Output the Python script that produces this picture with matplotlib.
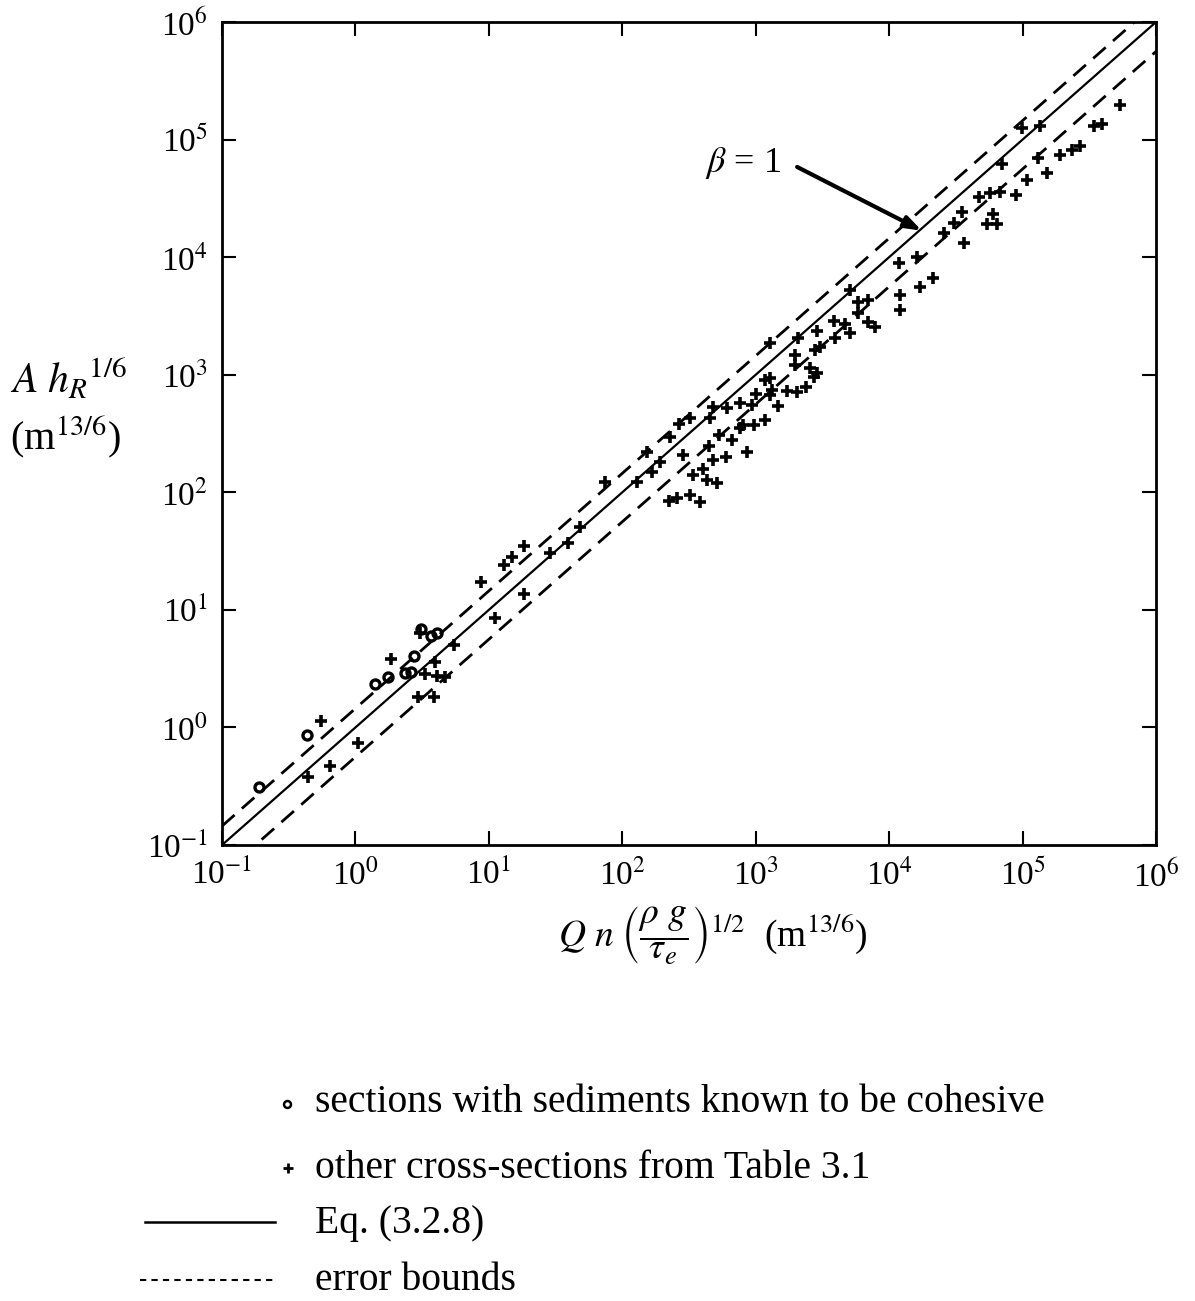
import numpy as np
import matplotlib.pyplot as plt

plt.rcParams['font.family'] = ['Liberation Serif', 'DejaVu Serif']
plt.rcParams['mathtext.fontset'] = 'stix'

# cross-sections with cohesive sediments
coh_x = [0.19, 0.43, 1.40, 1.75, 2.34, 2.62, 2.75, 3.08, 3.66, 4.05]
coh_y = [0.31, 0.86, 2.33, 2.71, 2.90, 2.99, 4.06, 6.90, 6.01, 6.34]

# other cross-sections (Table 3.1)
oth_x = [0.55, 0.44, 0.65, 1.05, 1.84, 3.03, 3.30, 3.97, 4.05, 4.67,
         2.94, 3.88, 5.48, 8.69, 11.1, 12.9, 14.9, 18.2, 18.2, 28.8,
         39.4, 48.3, 74.3, 129, 222, 256, 153, 166, 192, 228,
         264, 322, 455, 482, 607, 284, 322, 383, 341, 401,
         430, 511, 443, 482, 526, 600, 662, 764, 809, 857,
         935, 962, 764, 1007, 1175, 1479, 1175, 1282, 1321, 1282,
         1710, 2032, 2388, 1977, 1977, 2559, 2871, 2710, 2786, 3041,
         2871, 3936, 3828, 4677, 2089, 1282, 5047, 5047, 5794, 6998,
         5888, 6998, 7852, 11749, 16144, 12078, 12078, 17061, 21281, 25823,
         30690, 35075, 36058, 46774, 56494, 67920, 89536, 59841, 53951, 64121,
         69984, 107647, 152055, 131522, 191426, 234423, 270396, 98855, 133968, 340408,
         392645, 533335]
oth_y = [1.14, 0.38, 0.47, 0.73, 3.81, 6.41, 2.86, 3.63, 2.75, 2.71,
         1.83, 1.83, 5.04, 17.1, 8.49, 24.2, 28.4, 35.2, 13.7, 30.3,
         37.3, 51.1, 123, 123, 84.9, 89.1, 222, 150, 182, 298,
         382, 427, 427, 536, 519, 208, 95.1, 83.4, 141, 157,
         127, 121, 249, 189, 308, 201, 279, 351, 374, 222,
         553, 374, 573, 687, 413, 543, 904, 933, 743, 673,
         733, 719, 793, 1472, 1211, 1135, 1030, 964, 1626, 1734,
         2355, 2042, 2884, 2704, 2042, 1854, 2280, 5260, 4188, 4325,
         3334, 2831, 2564, 8872, 10000, 4775, 3556, 5610, 6607, 15959,
         19409, 24099, 13122, 32659, 34914, 36058, 33806, 23281, 19143, 19143,
         62087, 45290, 51642, 69343, 73961, 81658, 88308, 124738, 130617, 130617,
         135831, 196789]

# Eq. (3.2.8) and its error bounds
eq_x = np.array([1e-1, 1e6])
eq_y = eq_x
upper_ratio = 1.45
lower_ratio = 1 / 1.78

decades = list(range(-1, 7))
tick_labels = ['10$^{%d}$' % k for k in decades]

fig = plt.figure(figsize=(11.95, 13.01), dpi=100)
ax = fig.add_axes([0.1858, 0.3505, 0.7816, 0.6326])

ax.plot(eq_x, eq_y, '-', color='black', lw=1.6)
ax.plot(eq_x, eq_y * upper_ratio, color='black', lw=2.0, dashes=(6, 3.5))
ax.plot(eq_x, eq_y * lower_ratio, color='black', lw=2.0, dashes=(6, 3.5))

ax.plot(oth_x, oth_y, '+', color='black', ms=9, mew=2.6)
ax.plot(coh_x, coh_y, 'o', mfc='none', mec='black', ms=6.5, mew=2.4)

ax.set_xscale('log')
ax.set_yscale('log')
ax.set_xlim(1e-1, 1e6)
ax.set_ylim(1e-1, 1e6)
ax.set_xticks([10.0 ** k for k in decades])
ax.set_yticks([10.0 ** k for k in decades])
ax.set_xticklabels(tick_labels)
ax.set_yticklabels(tick_labels)
ax.minorticks_off()
ax.tick_params(direction='in', length=10, width=1.5, top=True, right=True,
               labelsize=24, pad=10)
for s in ax.spines.values():
    s.set_linewidth(2)

# beta = 1 pointer
ax.annotate('', xy=(10 ** 4.245, 10 ** 4.225), xytext=(10 ** 3.31, 10 ** 4.767),
            arrowprops=dict(arrowstyle='-|>,head_length=1.0,head_width=0.35',
                            color='black', lw=3, shrinkA=0, shrinkB=0))
ax.text(10 ** 2.62, 10 ** 4.80, r'$\beta$ = 1', fontsize=26, va='center', ha='left')

# axis titles
fig.text(0.008, 0.7085, r'$A\ h_R$$^{1/6}$', fontsize=30, va='center', ha='left')
fig.text(0.008, 0.6645, r'(m$^{13/6}$)', fontsize=29, va='center', ha='left')
fig.text(0.5965, 0.281, r'$Q\ n\ \left(\dfrac{\rho\ g}{\tau_e}\right)^{1/2}$  (m$^{13/6}$)',
         fontsize=27, va='center', ha='center')

# key below the plot
lx = 315 / 1195
fig.lines.append(plt.Line2D([287 / 1195], [1 - 1104 / 1301], marker='o', mfc='none',
                            mec='black', ms=5, mew=1.8, transform=fig.transFigure))
fig.text(lx, 1 - 1103 / 1301, 'sections with sediments known to be cohesive',
         fontsize=28.5, va='center')
fig.lines.append(plt.Line2D([288 / 1195], [1 - 1168 / 1301], marker='+', color='black',
                            ms=7, mew=2, transform=fig.transFigure))
fig.text(lx, 1 - 1168 / 1301, 'other cross-sections from Table 3.1', fontsize=28.5, va='center')
fig.lines.append(plt.Line2D([145 / 1195, 275 / 1195], [1 - 1222 / 1301] * 2, color='black',
                            lw=1.8, transform=fig.transFigure))
fig.text(lx, 1 - 1223 / 1301, 'Eq. (3.2.8)', fontsize=28.5, va='center')
fig.lines.append(plt.Line2D([140 / 1195, 275 / 1195], [1 - 1280 / 1301] * 2, color='black',
                            lw=1.5, dashes=(3, 2.5), transform=fig.transFigure))
fig.text(lx, 1 - 1280 / 1301, 'error bounds', fontsize=28.5, va='center')

fig.savefig('out.png', dpi=100)
